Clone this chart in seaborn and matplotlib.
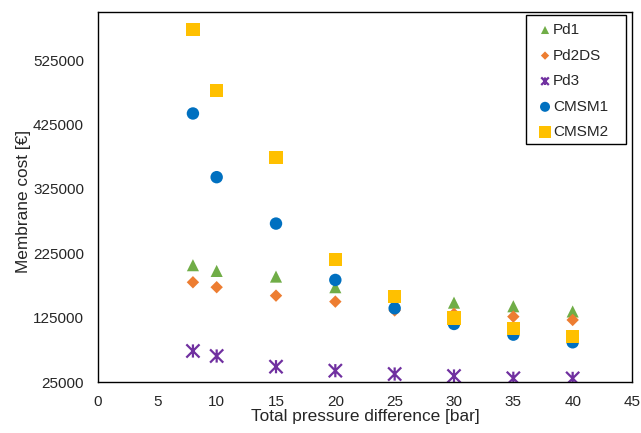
import numpy as np
import pandas as pd
import matplotlib
matplotlib.use("Agg")
import matplotlib.pyplot as plt
from matplotlib.path import Path
from matplotlib.patches import Rectangle
import seaborn as sns

# Total pressure difference [bar]
pressure = [8, 10, 15, 20, 25, 30, 35, 40]

# Membrane cost [€] per membrane type
pd1 = [206500, 197600, 188800, 172300, 158000, 148300, 142700, 134600]
pd2ds = [180000, 172300, 159200, 149900, 136200, 131000, 126600, 121400]
pd3 = [73200, 65400, 48800, 42600, 37400, 34300, 30800, 30600]
cmsm1 = [442300, 343300, 271200, 183600, 139600, 115200, 98600, 86700]
cmsm2 = [572400, 478300, 373400, 215200, 157700, 124500, 108500, 95400]

series_names = ["Pd1", "Pd2DS", "Pd3", "CMSM1", "CMSM2"]
series_values = [pd1, pd2ds, pd3, cmsm1, cmsm2]

x_ticks = [0, 5, 10, 15, 20, 25, 30, 35, 40, 45]
y_ticks = [25000, 125000, 225000, 325000, 425000, 525000]

# star marker: an X with a vertical stroke
star = Path(
    [(-1, -1), (1, 1), (-1, 1), (1, -1), (0, -1), (0, 1)],
    [Path.MOVETO, Path.LINETO, Path.MOVETO, Path.LINETO, Path.MOVETO, Path.LINETO],
)

# marker style, plot size and legend size per series
styles = {
    "Pd1": dict(color="#70AD47", marker="^", s=76, legend_s=34),
    "Pd2DS": dict(color="#ED7D31", marker="D", s=40, legend_s=18),
    "Pd3": dict(color="#7030A0", marker=star, s=90, legend_s=30, line=True),
    "CMSM1": dict(color="#0070C0", marker="o", s=80, legend_s=52),
    "CMSM2": dict(color="#FFC000", marker="s", s=92, legend_s=75),
}

frames = []
for name, vals in zip(series_names, series_values):
    frames.append(pd.DataFrame({"pressure": pressure, "cost": vals, "membrane": name}))
data = pd.concat(frames, ignore_index=True)

sns.set_style("white")
plt.rcParams["font.family"] = ["Liberation Sans", "DejaVu Sans"]

fig = plt.figure(figsize=(6.41, 4.33), dpi=100)
ax = fig.add_axes([98 / 641, 1 - 382 / 433, 534 / 641, 370 / 433])

for name in series_names:
    st = styles[name]
    sub = data[data["membrane"] == name]
    if st.get("line"):
        sns.scatterplot(data=sub, x="pressure", y="cost", ax=ax, marker=st["marker"],
                        s=st["s"], color=st["color"], edgecolor=st["color"],
                        facecolor="none", linewidth=1.6, label=name)
    else:
        sns.scatterplot(data=sub, x="pressure", y="cost", ax=ax, marker=st["marker"],
                        s=st["s"], color=st["color"], edgecolor="none",
                        linewidth=0, label=name)

ax.set_xlim(0, 45)
ax.set_ylim(25000, 600000)
ax.set_xticks(x_ticks)
ax.set_yticks(y_ticks)
ax.set_xticklabels([str(v) for v in x_ticks], fontsize=11)
ax.set_yticklabels([str(v) for v in y_ticks], fontsize=11)
ax.tick_params(axis="x", length=0, pad=9)
ax.tick_params(axis="y", length=0, pad=10)
ax.set_xlabel("Total pressure difference [bar]", fontsize=12.4)
ax.set_ylabel("Membrane cost [€]", fontsize=12.4)
ax.xaxis.set_label_coords(0.501, -0.0724)
ax.yaxis.set_label_coords(-0.125, 0.487)
for sp in ax.spines.values():
    sp.set_color("black")
    sp.set_linewidth(1.0)

# legend box, drawn separately so its padding can be set freely
ax.add_patch(Rectangle((0.8015, 0.6432), 0.9888 - 0.8015, 0.9919 - 0.6432,
                       transform=ax.transAxes, facecolor="white", edgecolor="black",
                       linewidth=1.0, zorder=4, clip_on=False))
leg = ax.legend(loc="upper left", bbox_to_anchor=(0.8221, 0.9703), borderaxespad=0,
                borderpad=0, fontsize=11, frameon=False, handlelength=1.05,
                handletextpad=0.0, labelspacing=0.76)
leg.set_zorder(5)
for handle, name in zip(leg.legend_handles, series_names):
    handle.set_sizes([styles[name]["legend_s"]])

fig.savefig("out.png", dpi=100)
